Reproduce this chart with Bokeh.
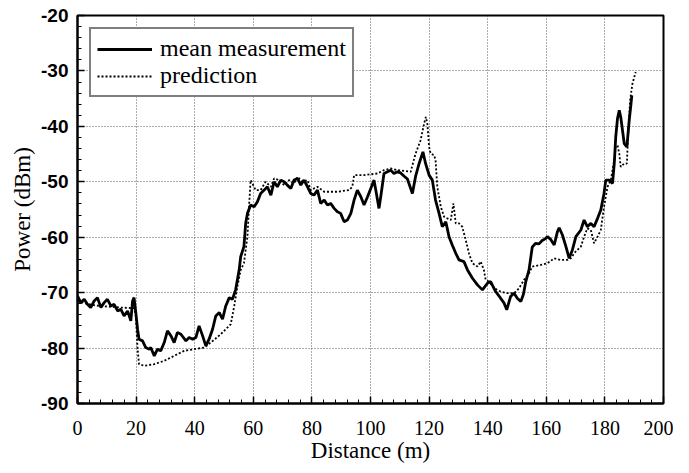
from bokeh.plotting import figure
from bokeh.models import SingleIntervalTicker, Range1d, Legend, LegendItem, NumeralTickFormatter
from bokeh.embed import file_html
from bokeh.resources import INLINE

# ---- data ----
meas_x = [0, 1.1, 2.3, 3.4, 4.5, 5.7, 6.8, 8.0, 9.1, 10.2, 11.4, 12.5, 13.7, 14.8, 15.9, 17.1,
          18.2, 18.8, 19.3, 19.9, 20.5, 21.0, 22.2, 23.3, 24.5, 25.0, 26.2, 27.3, 28.4, 29.6,
          30.7, 31.9, 33.0, 34.1, 35.3, 37.0, 38.1, 39.3, 40.4, 41.5, 42.7, 43.8, 44.9, 46.1,
          47.2, 48.4, 49.5, 50.6, 51.8, 52.9, 54.0, 55.2, 55.7, 56.8, 57.4, 58.0, 59.1, 60.3,
          61.4, 62.5, 63.7, 64.8, 66.0, 67.1, 68.2, 69.4, 70.5, 71.6, 72.8, 73.9, 75.1, 76.2,
          77.3, 78.5, 79.6, 80.7, 81.9, 83.0, 84.2, 85.3, 86.4, 87.6, 88.7, 89.8, 91.0, 92.1,
          93.3, 94.4, 95.5, 96.7, 97.8, 99.0, 100.1, 101.2, 101.8, 102.9, 103.5, 104.6, 105.8,
          106.9, 108.0, 109.2, 110.3, 111.5, 112.6, 114.3, 115.4, 116.6, 117.9, 118.8, 120.0,
          121.1, 122.2, 123.4, 124.5, 125.7, 126.8, 127.9, 129.1, 130.2, 131.9, 133.1, 134.8,
          136.5, 138.2, 139.9, 141.0, 142.7, 144.4, 145.6, 146.5, 147.8, 149.0, 150.1, 151.3,
          152.2, 153.0, 154.1, 155.2, 156.3, 157.5, 158.6, 159.6, 160.4, 161.5, 162.7, 163.8,
          164.4, 165.5, 166.7, 167.8, 168.9, 170.1, 171.8, 172.9, 174.0, 175.2, 176.3, 177.5,
          178.6, 179.7, 180.3, 181.5, 182.6, 183.2, 183.7, 184.3, 184.9, 185.4, 186.6, 187.5,
          188.3, 188.8, 189.2]
meas_y = [-70.6, -71.8, -71.2, -72.1, -72.7, -71.5, -70.9, -72.7, -71.8, -71.2, -72.4, -72.1,
          -73.3, -73.0, -74.2, -73.3, -75.1, -71.5, -70.9, -73.6, -76.6, -78.4, -78.7, -79.9,
          -80.2, -79.9, -81.4, -80.2, -80.5, -79.0, -76.9, -77.8, -79.0, -77.2, -77.5, -78.7,
          -78.1, -78.4, -78.1, -76.0, -77.8, -79.6, -78.4, -76.6, -74.2, -73.6, -74.8, -72.4,
          -70.9, -71.2, -69.4, -65.8, -63.5, -61.7, -57.5, -55.7, -54.2, -54.5, -53.6, -52.1,
          -51.5, -50.9, -52.4, -50.0, -50.9, -49.7, -50.0, -50.6, -51.2, -49.7, -49.4, -50.6,
          -49.7, -50.9, -52.1, -52.4, -51.5, -53.9, -53.3, -54.2, -53.9, -54.8, -55.4, -55.7,
          -57.2, -56.9, -55.7, -53.3, -51.5, -52.7, -54.2, -52.7, -51.2, -49.7, -51.5, -54.8,
          -52.7, -48.5, -48.2, -47.9, -48.5, -48.2, -48.4, -49.0, -49.5, -52.1, -49.0, -46.7,
          -44.6, -46.7, -48.8, -49.7, -53.3, -55.7, -58.1, -57.2, -59.9, -61.4, -62.9, -64.1,
          -64.4, -65.9, -67.4, -68.6, -69.5, -68.3, -68.0, -69.8, -71.0, -71.9, -73.1, -70.7,
          -70.1, -71.0, -71.6, -70.3, -68.0, -65.9, -61.8, -61.1, -61.2, -60.6, -60.3, -59.9,
          -60.4, -61.4, -59.0, -58.3, -59.6, -61.7, -63.8, -62.3, -59.9, -58.7, -56.9, -58.1,
          -57.5, -58.1, -56.6, -55.1, -52.1, -49.7, -49.7, -50.3, -46.7, -41.9, -38.6, -37.1,
          -38.3, -43.1, -43.7, -38.9, -36.5, -34.4]

pred_x = [0, 3, 6, 10, 15, 19.3, 19.9, 20.5, 21.0, 22.8, 26.2, 29.6, 33.0, 36.4, 39.8, 43.2,
          45.5, 48.9, 52.3, 53.5, 54.6, 55.7, 56.8, 58.0, 58.6, 59.1, 59.7, 60.8, 62.5, 64.2,
          66.0, 67.1, 68.8, 70.5, 72.2, 73.9, 75.1, 76.8, 78.5, 79.6, 80.7, 81.9, 84.2, 88.7,
          92.7, 93.8, 94.4, 97.8, 102.4, 104.6, 106.9, 109.2, 113.7, 115.4, 117.1, 118.3, 118.9,
          119.4, 120.0, 120.5, 121.7, 122.2, 122.8, 124.0, 125.1, 126.2, 127.4, 128.3, 129.1,
          130.2, 131.3, 132.5, 133.6, 134.8, 136.5, 137.6, 138.7, 139.3, 140.4, 142.2, 144.4,
          146.7, 149.0, 150.7, 152.4, 154.1, 155.2, 158.1, 160.4, 162.7, 164.9, 167.2, 168.4,
          169.5, 170.6, 171.8, 172.9, 174.0, 175.2, 176.3, 177.5, 178.6, 179.7, 180.9, 182.0,
          183.2, 183.7, 184.3, 184.9, 185.4, 186.6, 187.5, 187.9, 188.6, 189.4, 190.5]
pred_y = [-71.5, -72.0, -72.3, -72.5, -72.7, -72.8, -74.2, -80.2, -82.9, -83.2, -82.9, -82.3,
          -81.4, -80.5, -80.2, -79.9, -79.0, -77.5, -75.7, -72.4, -68.8, -65.9, -64.7, -59.9,
          -53.9, -49.7, -50.3, -51.5, -51.5, -50.0, -50.9, -49.4, -49.7, -50.6, -49.7, -50.3,
          -49.1, -50.0, -49.7, -51.5, -51.2, -50.9, -51.8, -51.8, -51.5, -50.9, -48.8, -48.8,
          -48.5, -47.9, -47.6, -47.9, -48.2, -44.9, -42.5, -39.5, -38.3, -39.5, -43.7, -44.9,
          -45.2, -46.1, -50.9, -54.5, -56.3, -56.6, -56.9, -53.9, -57.5, -57.5, -58.1, -60.5,
          -62.9, -64.7, -65.3, -64.4, -65.9, -67.7, -68.0, -69.2, -69.8, -70.1, -70.1, -69.2,
          -67.7, -66.5, -65.3, -65.0, -64.7, -63.8, -64.1, -64.1, -63.8, -62.9, -62.3, -61.7,
          -59.9, -58.4, -58.7, -61.1, -59.9, -58.7, -54.5, -50.9, -49.7, -46.1, -43.7, -43.4,
          -44.9, -47.3, -46.7, -46.7, -41.9, -35.3, -32.3, -30.2]

labels = ["mean measurement", "prediction"]

SERIF = "Liberation Serif"
SANS = "Liberation Sans"

p = figure(width=673, height=465, output_backend="svg", toolbar_location=None,
           x_range=Range1d(0, 200), y_range=Range1d(-90, -20),
           min_border_left=77, min_border_right=10, min_border_top=15, min_border_bottom=61)
p.background_fill_color = "white"
p.border_fill_color = "white"
p.outline_line_color = "black"
p.outline_line_width = 2

# axes
p.xaxis.ticker = SingleIntervalTicker(interval=20, num_minor_ticks=5)
p.yaxis.ticker = SingleIntervalTicker(interval=10, num_minor_ticks=5)
p.yaxis.formatter = NumeralTickFormatter(format="0")
p.xaxis.formatter = NumeralTickFormatter(format="0")
for ax in (p.xaxis[0], p.yaxis[0]):
    ax.axis_line_color = "black"
    ax.axis_line_width = 2
    ax.major_tick_in = 7
    ax.major_tick_out = 0
    ax.minor_tick_in = 4
    ax.minor_tick_out = 0
    ax.major_tick_line_color = "black"
    ax.minor_tick_line_color = "black"
    ax.major_tick_line_width = 1.5
    ax.axis_label_text_font = SERIF
    ax.axis_label_text_font_style = "normal"
    ax.axis_label_text_font_size = "23px"
    ax.axis_label_text_color = "black"
    ax.major_label_text_color = "black"

p.xaxis.axis_label = "Distance (m)"
p.yaxis.axis_label = "Power (dBm)"
p.xaxis.major_label_text_font = SERIF
p.xaxis.major_label_text_font_size = "20px"
p.xaxis.major_label_standoff = 17
p.xaxis.axis_label_standoff = 0
p.yaxis.major_label_text_font = SANS
p.yaxis.major_label_text_font_style = "bold"
p.yaxis.major_label_text_font_size = "19px"
p.yaxis.major_label_standoff = 9
p.yaxis.axis_label_standoff = 3

# grid
for g in (p.xgrid[0], p.ygrid[0]):
    g.grid_line_color = "#333333"
    g.grid_line_width = 1
    g.grid_line_dash = "1 2"
    g.grid_line_alpha = 0.8

# data
r1 = p.line(meas_x, meas_y, line_color="black", line_width=2.8)
r2 = p.line(pred_x, pred_y, line_color="black", line_width=1.8, line_dash="2 2")

legend = Legend(items=[LegendItem(label=labels[0], renderers=[r1]),
                       LegendItem(label=labels[1], renderers=[r2])],
                location="top_left")
legend.margin = 12
legend.padding = 6
legend.spacing = 0
legend.glyph_width = 55
legend.glyph_height = 20
legend.label_height = 20
legend.label_standoff = 8
legend.label_text_font = SERIF
legend.label_text_font_size = "24px"
legend.label_text_line_height = 0.9
legend.label_text_color = "black"
legend.border_line_color = "black"
legend.border_line_width = 2
legend.background_fill_color = "white"
legend.background_fill_alpha = 1
p.add_layout(legend, "center")

open("out.html", "w").write(file_html(p, INLINE))
